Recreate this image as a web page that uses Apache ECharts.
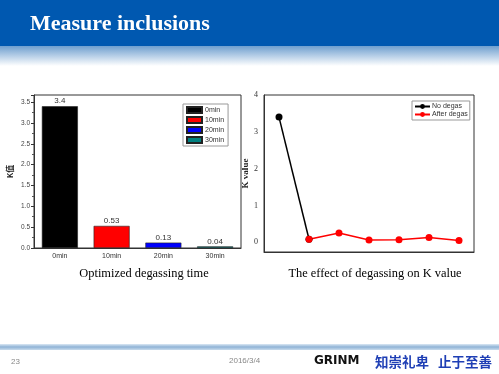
<!DOCTYPE html>
<html>
<head>
<meta charset="utf-8">
<script src="https://cdn.jsdelivr.net/npm/echarts@6/dist/echarts.min.js"></script>
<style>html,body{margin:0;padding:0;background:#fff;}#c{width:499px;height:374px;}</style>
</head>
<body>
<div id="c"></div>
<script>
// Left chart data
const barCategories = ['0min', '10min', '20min', '30min'];
const barValues = [3.4, 0.53, 0.13, 0.04];
const barColors = ['#000000', '#ff0000', '#0000ff', '#008080'];

// Right chart data
const lineCategories = ['1', '2', '3', '4', '5', '6', '7'];
const noDegas = [3.4, 0.08, '-', '-', '-', '-', '-'];
const afterDegas = ['-', 0.08, 0.25, 0.06, 0.07, 0.13, 0.05];

const chart = echarts.init(document.getElementById('c'), null, {renderer: 'canvas'});

const barSeries = barCategories.map((name, i) => ({
  type: 'bar',
  name: name,
  stack: 'k',
  xAxisIndex: 0,
  yAxisIndex: 0,
  barWidth: 36,
  data: barCategories.map((c, j) => (j === i ? barValues[i] : '-')),
  itemStyle: {color: barColors[i], borderColor: '#222', borderWidth: 0.6},
  label: {show: true, position: 'top', fontSize: 8, color: '#333', distance: 1,
          fontFamily: 'Liberation Sans', formatter: p => String(p.value)}
}));

const option = {
  animation: false,
  backgroundColor: '#ffffff',
  textStyle: {fontFamily: 'Liberation Sans'},
  title: [
    {text: 'Optimized degassing time', left: 139, top: 263, textAlign: 'center',
     textStyle: {fontFamily: 'Liberation Serif', fontWeight: 'normal', fontSize: 12.4, color: '#000'}},
    {text: 'The effect of degassing on K value', left: 370, top: 263, textAlign: 'center',
     textStyle: {fontFamily: 'Liberation Serif', fontWeight: 'normal', fontSize: 12.4, color: '#000'}}
  ],
  graphic: [
    {type: 'rect', shape: {x: 0, y: 0, width: 499, height: 46}, style: {fill: '#0058b0'}, z: 1},
    {type: 'rect', shape: {x: 0, y: 46, width: 499, height: 20},
     style: {fill: new echarts.graphic.LinearGradient(0, 0, 0, 1, [
       {offset: 0, color: '#6f9fcf'}, {offset: 1, color: '#ffffff'}])}, z: 1},
    {type: 'text', left: 30, top: 13, z: 2,
     style: {text: 'Measure inclusions', fill: '#ffffff', font: 'bold 22px "Liberation Serif"'}},
    {type: 'rect', shape: {x: 0, y: 344, width: 499, height: 6},
     style: {fill: new echarts.graphic.LinearGradient(0, 0, 0, 1, [
       {offset: 0, color: '#dbe8f4'}, {offset: 0.5, color: '#8fb3d6'}, {offset: 1, color: '#c9dced'}])}, z: 1},
    {type: 'text', left: 11, top: 358, z: 2,
     style: {text: '23', fill: '#888', font: '8px "Liberation Sans"'}},
    {type: 'text', left: 229, top: 357, z: 2,
     style: {text: '2016/3/4', fill: '#888', font: '8px "Liberation Sans"'}},
    {type: 'text', left: 314, top: 355, z: 2,
     style: {text: 'GRINM', fill: '#111', font: 'bold 12px "DejaVu Sans"'}},
    {type: 'text', left: 375, top: 355, z: 2,
     style: {text: '知崇礼卑', fill: '#1f3fb5', font: 'bold 13.5px "Noto Sans CJK SC"'}},
    {type: 'text', left: 438, top: 355, z: 2,
     style: {text: '止于至善', fill: '#1f3fb5', font: 'bold 13.5px "Noto Sans CJK SC"'}}
  ],
  legend: [
    {data: barCategories, left: 183, top: 104, orient: 'vertical', icon: 'rect',
     itemWidth: 15, itemHeight: 6, itemGap: 2, padding: [2, 4, 2, 3],
     borderColor: '#999', borderWidth: 1, borderRadius: 0,
     textStyle: {fontSize: 7, color: '#333', padding: [0, 0, 0, -2]}},
    {data: ['No degas', 'After degas'], left: 412, top: 101, orient: 'vertical',
     itemWidth: 15, itemHeight: 6, itemGap: 1, padding: [2, 2, 2, 2],
     borderColor: '#999', borderWidth: 1, borderRadius: 0,
     textStyle: {fontSize: 7, color: '#333', padding: [0, 0, 0, -3]}}
  ],
  grid: [
    {left: 34, right: 258, top: 95, bottom: 126, show: true, borderColor: '#333', borderWidth: 1, backgroundColor: 'transparent'},
    {left: 264, right: 25, top: 95, bottom: 122, show: true, borderColor: '#333', borderWidth: 1, backgroundColor: 'transparent'}
  ],
  xAxis: [
    {type: 'category', gridIndex: 0, data: barCategories,
     axisLine: {onZero: false, lineStyle: {color: '#333'}},
     axisTick: {alignWithLabel: true, length: 3, lineStyle: {color: '#333'}},
     axisLabel: {fontSize: 7, color: '#333', margin: 5}},
    {type: 'category', gridIndex: 1, data: lineCategories,
     axisLine: {onZero: false, lineStyle: {color: '#333'}},
     axisTick: {alignWithLabel: true, inside: true, length: 4, lineStyle: {color: '#333'}},
     axisLabel: {show: false}}
  ],
  yAxis: [
    {type: 'value', gridIndex: 0, min: 0, max: 3.67, interval: 0.5,
     name: 'K值', nameLocation: 'middle', nameGap: 20, nameRotate: 90,
     nameTextStyle: {fontSize: 8, fontWeight: 'bold', color: '#222', fontFamily: 'Noto Sans CJK SC'},
     axisLine: {show: true, lineStyle: {color: '#333'}},
     axisTick: {show: true, length: 3, lineStyle: {color: '#333'}},
     minorTick: {show: true, splitNumber: 2, length: 2, lineStyle: {color: '#555'}},
     splitLine: {show: false},
     axisLabel: {fontSize: 6.5, color: '#444', margin: 4,
       formatter: v => (v > 3.51 ? '' : v.toFixed(1))}},
    {type: 'value', gridIndex: 1, min: -0.265, max: 4, splitNumber: 4,
     name: 'K value', nameLocation: 'middle', nameGap: 14, nameRotate: 90,
     nameTextStyle: {fontSize: 9, fontWeight: 'bold', color: '#222', fontFamily: 'Liberation Serif'},
     axisLine: {show: true, lineStyle: {color: '#333'}},
     axisTick: {show: false},
     splitLine: {show: false},
     axisLabel: {fontSize: 8, color: '#333', margin: 6, fontFamily: 'Liberation Serif',
       showMinLabel: false,
       formatter: v => (Math.abs(v - Math.round(v)) < 1e-6 ? String(Math.round(v)) : '')}}
  ],
  series: barSeries.concat([
    {type: 'line', name: 'No degas', xAxisIndex: 1, yAxisIndex: 1, data: noDegas,
     symbol: 'circle', symbolSize: 7, color: '#000', lineStyle: {width: 1.5, color: '#000'},
     itemStyle: {color: '#000'}},
    {type: 'line', name: 'After degas', xAxisIndex: 1, yAxisIndex: 1, data: afterDegas,
     symbol: 'circle', symbolSize: 7, color: '#ff0000', lineStyle: {width: 1.5, color: '#ff0000'},
     itemStyle: {color: '#ff0000'}}
  ])
};
chart.setOption(option);
</script>
</body>
</html>
